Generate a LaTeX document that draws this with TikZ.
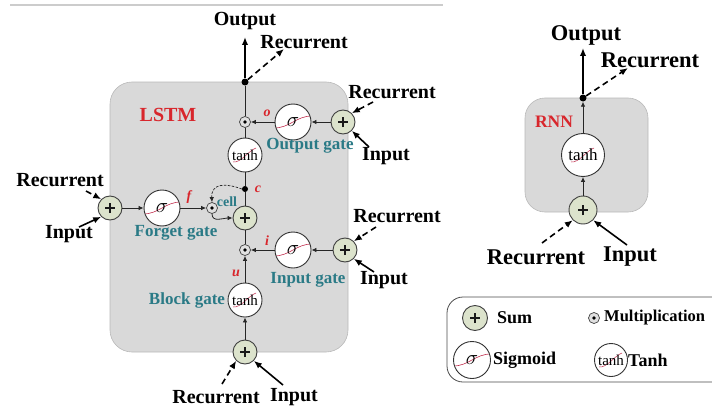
\documentclass[tikz,border=0pt]{standalone}
\usepackage{fontspec}
\setmainfont{Liberation Serif}
\usetikzlibrary{arrows.meta}
\definecolor{sumfill}{HTML}{DCE3CC}
\definecolor{boxgray}{HTML}{D9D9D9}
\definecolor{gateteal}{HTML}{2A7A86}
\definecolor{labred}{HTML}{D8262C}
\definecolor{curvered}{HTML}{C23050}
\begin{document}
\begin{tikzpicture}[x=1pt,y=-1pt,
  >={Latex[length=5pt,width=4.5pt]},
  sumnode/.style={circle,draw=black!75,line width=0.9pt,fill=sumfill,minimum size=24pt,inner sep=0pt,
    path picture={\draw[black!90,line width=1.8pt]
      ([xshift=-5pt]path picture bounding box.center) -- ([xshift=5pt]path picture bounding box.center)
      ([yshift=-5pt]path picture bounding box.center) -- ([yshift=5pt]path picture bounding box.center);}},
  multnode/.style={circle,draw=black!75,line width=0.7pt,fill=black!12,minimum size=11pt,inner sep=0pt,
    path picture={\fill[black] (path picture bounding box.center) circle (1.8pt);}},
  signode/.style={circle,draw=black!80,line width=0.9pt,fill=white,minimum size=36pt,inner sep=0pt,
    font=\fontsize{22}{22}\selectfont,
    path picture={\draw[curvered,line width=0.6pt]
      ([shift={(-19,6)}]path picture bounding box.center) .. controls +(16,0) and +(-16,0) ..
      ([shift={(19,-6)}]path picture bounding box.center);}},
  tanhnode/.style={circle,draw=black!80,line width=0.9pt,fill=white,minimum size=34pt,inner sep=0pt,
    font=\fontsize{15}{15}\selectfont,
    path picture={\draw[curvered,line width=0.5pt]
      ([shift={(-12,7)}]path picture bounding box.center) .. controls +(8,1) and +(-8,3) ..
      ([shift={(11,-7)}]path picture bounding box.center);}},
  dotnode/.style={circle,fill=black,minimum size=6pt,inner sep=0pt},
  lab/.style={font=\fontsize{20}{20}\bfseries},
  rlab/.style={font=\fontsize{22.5}{22.5}\bfseries},
  leglab/.style={font=\fontsize{18}{18}\bfseries,anchor=west,inner sep=0pt},
  gate/.style={font=\fontsize{17}{17}\bfseries,text=gateteal},
  redl/.style={font=\fontsize{14}{14}\bfseries\itshape,text=labred},
  flow/.style={line width=0.8pt,black!85,->},
  plain/.style={line width=0.8pt,black!85},
  ext/.style={line width=1.6pt,-{Latex[length=8pt,width=6.5pt]}},
  extd/.style={ext,dash pattern=on 6pt off 4pt}
]
\useasboundingbox (0,0) rectangle (712,412);

% separator rule at the top
\draw[gray!40,line width=2pt] (10,5) -- (443,5);

%================ LSTM block ================
\fill[boxgray,draw=gray!55,line width=0.6pt,rounded corners=22pt] (110,82) rectangle (348,352);
\node[font=\fontsize{20}{20}\bfseries,text=labred] (lstm) at (168,115) {LSTM};

% nodes on the cell line
\node[dotnode,minimum size=7pt] (outdot) at (245,82) {};
\node[multnode] (mo) at (245,122) {};
\node[tanhnode] (th) at (245,155) {tanh};
\node[dotnode] (cdot) at (245,189) {};
\node[sumnode] (cs) at (245,218) {};
\node[multnode] (mi) at (245,250) {};
\node[tanhnode] (tb) at (245,300) {tanh};
\node[sumnode] (ab) at (245,352) {};

% output gate
\node[signode] (so) at (293,122) {$\sigma$};
\node[sumnode] (ao) at (343,122) {};
% forget gate
\node[sumnode] (af) at (110,208) {};
\node[signode] (sf) at (162,208) {$\sigma$};
\node[multnode] (cm) at (212,208) {};
% input gate
\node[signode] (si) at (293,250) {$\sigma$};
\node[sumnode] (ai) at (345,250) {};

% gate names and signal letters
\node[gate] (ogname) at (310,146) {Output gate};
\node[gate] (fgname) at (176,233) {Forget gate};
\node[gate] (igname) at (308,280) {Input gate};
\node[gate] (bgname) at (187,300) {Block gate};
\node[gate,font=\fontsize{14}{14}\bfseries] (cellname) at (227,202) {cell};
\node[redl] (olab) at (267,113) {o};
\node[redl] (flab) at (189,197) {f};
\node[redl] (clab) at (258,189) {c};
\node[redl] (ilab) at (267,241) {i};
\node[redl] (ulab) at (236,273) {u};

% internal signal flow
\draw[flow] (ab) -- (tb);
\draw[flow] (tb) -- (mi);
\draw[plain] (mi) -- (cs);
\draw[plain] (cs) -- (cdot);
\draw[plain] (cdot) -- (th);
\draw[plain] (th) -- (mo);
\draw[plain] (mo) -- (outdot);
\draw[flow] (ao) -- (so);
\draw[flow] (so) -- (mo);
\draw[flow] (ai) -- (si);
\draw[flow] (si) -- (mi);
\draw[flow] (af) -- (sf);
\draw[flow] (sf) -- (cm);
\draw[flow] (cm.south) .. controls +(0,9) and +(-9,0) .. (cs.west);
\draw[line width=0.7pt,black!85,dash pattern=on 2.5pt off 1.5pt,->]
  (cdot.west) .. controls (226,183) and (211,183) .. (cm.north);

% output and recurrent outputs
\coordinate (otip) at (245,37);
\coordinate (rtip) at (284,49);
\node[lab] (outtxt) at (245,21) {Output};
\node[lab] (rectop) at (304,42) {Recurrent};
\draw[ext] (outdot) -- (otip);
\draw[extd] (outdot) -- (rtip);

% inputs of the output gate
\node[lab] (rec1) at (392,92) {Recurrent};
\node[lab] (in1) at (386,156) {Input};
\coordinate (r1s) at (373,102);
\coordinate (i1s) at (369,147);
\draw[extd] (r1s) -- (ao.north east);
\draw[ext] (i1s) -- (ao.south east);

% inputs of the forget gate
\node[lab] (rec2) at (60,180) {Recurrent};
\node[lab] (in2) at (69,234) {Input};
\coordinate (r2s) at (86,191);
\coordinate (i2s) at (79,227);
\draw[extd] (r2s) -- (af.north west);
\draw[ext] (i2s) -- (af.south west);

% inputs of the input gate
\node[lab] (rec3) at (397,216) {Recurrent};
\node[lab] (in3) at (384,280) {Input};
\coordinate (r3s) at (376,227);
\coordinate (i3s) at (374,272);
\draw[extd] (r3s) -- (ai.north east);
\draw[ext] (i3s) -- (ai.south east);

% inputs of the block gate
\node[lab] (rec4) at (216,397) {Recurrent};
\node[lab] (in4) at (294,397) {Input};
\coordinate (r4s) at (222,384);
\coordinate (i4s) at (283,385);
\draw[extd] (r4s) -- (ab.south west);
\draw[ext] (i4s) -- (ab.south east);

%================ RNN block ================
\fill[boxgray,draw=gray!55,line width=0.6pt,rounded corners=20pt] (525,98) rectangle (648,212);
\node[font=\fontsize{17.5}{17.5}\bfseries,text=labred] (rnn) at (554,122) {RNN};
\node[dotnode,minimum size=7pt] (rdot) at (583,98) {};
\node[tanhnode,minimum size=43pt,font=\fontsize{17}{17}\selectfont] (rth) at (583,155) {tanh};
\node[sumnode,minimum size=28pt] (rs) at (583,210) {};
\draw[flow] (rs) -- (rth);
\draw[flow] (rth) -- (rdot);
\coordinate (rotip) at (583,48);
\coordinate (rrtip) at (628,68);
\node[rlab] (routtxt) at (586,35) {Output};
\node[rlab] (rrectop) at (650,60) {Recurrent};
\draw[ext] (rdot) -- (rotip);
\draw[extd] (rdot) -- (rrtip);
\node[rlab] (rrec) at (536,257) {Recurrent};
\node[rlab] (rin) at (630,257) {Input};
\coordinate (rrs) at (542,243);
\coordinate (ris) at (627,245);
\draw[extd] (rrs) -- (rs.south west);
\draw[ext] (ris) -- (rs.south east);

%================ Legend ================
\draw[black!70,fill=white,line width=0.8pt,rounded corners=16pt] (447,297) rectangle (740,382);
\node[sumnode,minimum size=25pt] (lsum) at (475,318) {};
\node[leglab] (lsumt) at (497,318) {Sum};
\node[multnode] (lmul) at (594,318) {};
\node[leglab,font=\fontsize{16.5}{16.5}\bfseries] (lmult) at (604,318) {Multiplication};
\node[signode,fill=none,minimum size=37pt] (lsig) at (472,360) {$\sigma$};
\node[leglab] (lsigt) at (493,360) {Sigmoid};
\node[tanhnode,fill=none,minimum size=33pt] (ltanh) at (611,360) {tanh};
\node[leglab] (ltanht) at (628,360) {Tanh};
\end{tikzpicture}
\end{document}
